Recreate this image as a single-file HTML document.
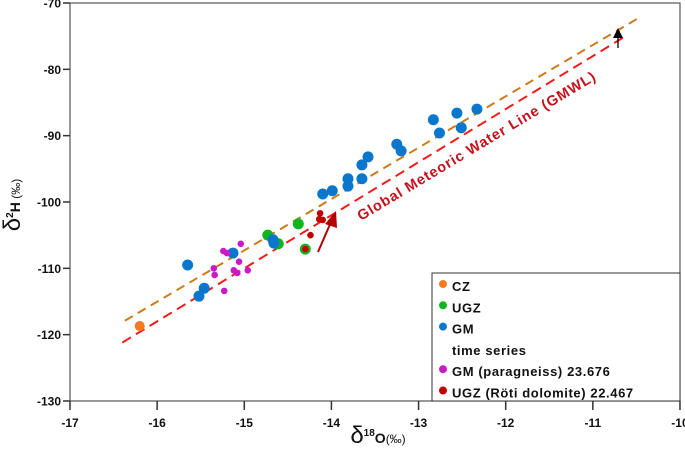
<!DOCTYPE html>
<html><head><meta charset="utf-8"><style>
body{margin:0;background:#fff}
svg{display:block;font-family:"Liberation Sans",Arial,sans-serif}
</style></head><body>
<svg id="chart" width="685" height="457" viewBox="0 0 685 457">
<g id="axes"></g>
<g id="lines"></g>
<g id="points"></g>
<text x="0" y="0" transform="translate(361,221) rotate(-31)" font-size="14.5" font-weight="bold" fill="#c8101a" letter-spacing="0.9">Global Meteoric Water Line (GMWL)</text>
<g transform="translate(20,205) rotate(-90)">
<text text-anchor="middle" font-size="14" font-weight="bold" fill="#111"><tspan font-size="24" font-weight="normal">δ</tspan><tspan dy="-7" font-size="10">2</tspan><tspan dy="7">H</tspan><tspan font-size="12" font-weight="normal"> (‰)</tspan></text></g>
<g>
<text x="378" y="443" text-anchor="middle" font-size="14" font-weight="bold" fill="#111"><tspan font-size="24" font-weight="normal">δ</tspan><tspan dy="-7" font-size="10">18</tspan><tspan dy="7">O</tspan><tspan font-size="12" font-weight="normal">(‰)</tspan></text></g>
<g id="legend"></g>
</svg>
<script>
const xTicks=[-17,-16,-15,-14,-13,-12,-11,-10];
const yTicks=[-70,-80,-90,-100,-110,-120,-130];
const cz_x=[-16.20]; const cz_y=[-118.7];
const ugz_x=[-14.73,-14.61,-14.38,-14.30]; const ugz_y=[-105.0,-106.3,-103.3,-107.1];
const gm_x=[-15.65,-15.46,-15.52,-15.13,-14.67,-14.66,-14.10,-13.99,-13.81,-13.81,-13.65,-13.58,-13.65,-13.25,-13.20,-12.83,-12.76,-12.56,-12.51,-12.33];
const gm_y=[-109.5,-113.0,-114.2,-107.7,-105.7,-106.2,-98.8,-98.3,-96.5,-97.6,-94.4,-93.2,-96.5,-91.3,-92.3,-87.6,-89.6,-86.6,-88.8,-86.0];
const para_x=[-15.04,-15.24,-15.20,-15.35,-15.34,-15.06,-15.12,-15.08,-14.96,-15.23];
const para_y=[-106.3,-107.4,-107.7,-110.0,-111.0,-109.0,-110.3,-110.7,-110.3,-113.4];
const roti_x=[-14.13,-14.14,-14.10,-14.24,-14.30];
const roti_y=[-101.7,-102.6,-102.7,-105.0,-107.1];
const gmwl_x=[-16.4,-10.6]; const gmwl_y=[-121.2,-74.8];
const local_x=[-16.37,-10.48]; const local_y=[-117.9,-72.3];
const legendLabels=["CZ","UGZ","GM","time series","GM (paragneiss) 23.676","UGZ (Röti dolomite) 22.467"];
const legendColors=["#f47a20","#12b51e","#0a77cc",null,"#c81ac8","#c00000"];

const NS="http://www.w3.org/2000/svg";
const X=v=>70+(v+17)*87.14;
const Y=v=>3+(-70-v)*6.633;
function mk(tag,attrs,parent){const e=document.createElementNS(NS,tag);for(const k in attrs)e.setAttribute(k,attrs[k]);parent.appendChild(e);return e;}
const axes=document.getElementById('axes');
let fr=mk('rect',{x:X(-17),y:Y(-70),width:X(-10)-X(-17),height:Y(-130)-Y(-70),fill:'none',stroke:'#555','stroke-width':1.2},axes);


xTicks.forEach(t=>{
 let l=mk('line',{x1:X(t),x2:X(t),y1:Y(-130),y2:Y(-130)+9,stroke:'#333','stroke-width':1.5},axes);
 
 
 let tx=mk('text',{x:X(t),y:Y(-130)+26,'text-anchor':'middle','font-size':12,'font-weight':'bold',fill:'#111'},axes);
 tx.textContent=t;
 
 
});
yTicks.forEach(t=>{
 let l=mk('line',{x1:X(-17)-7,x2:X(-17),y1:Y(t),y2:Y(t),stroke:'#333','stroke-width':1.5},axes);
 
 
 let tx=mk('text',{x:X(-17)-9,y:Y(t)+4.5,'text-anchor':'end','font-size':12,'font-weight':'bold',fill:'#111'},axes);
 tx.textContent=t;
 
 
});
const lines=document.getElementById('lines');
let lo=mk('line',{x1:X(local_x[0]),y1:Y(local_y[0]),x2:X(local_x[1]),y2:Y(local_y[1]),stroke:'#cc7a1a','stroke-width':2,'stroke-dasharray':'9,6'},lines);


let gw=mk('line',{x1:X(gmwl_x[0]),y1:Y(gmwl_y[0]),x2:X(gmwl_x[1]),y2:Y(gmwl_y[1]),stroke:'#f01c1c','stroke-width':2,'stroke-dasharray':'10,6'},lines);


let a1=mk('line',{x1:618,y1:48,x2:618,y2:36,stroke:'#000','stroke-width':1.3},lines);


let a1h=mk('polygon',{points:'613,38 623,38 618,28',fill:'#000'},lines);


let a2=mk('line',{x1:318,y1:252,x2:331,y2:222,stroke:'#b00000','stroke-width':2},lines);


let a2h=mk('polygon',{points:'325,224 337,228 336,211',fill:'#b00000'},lines);



const pts=document.getElementById('points');
function series(xs,ys,color,r,name){xs.forEach((x,i)=>{
 let c=mk('circle',{cx:X(x),cy:Y(ys[i]),r:r,fill:color},pts);
 
 
});}
series(cz_x,cz_y,"#f47a20",5,'cz-point');
series(ugz_x,ugz_y,"#12b51e",5.5,'ugz-point');
series(gm_x,gm_y,"#0a77cc",5.5,'gm-point');
series(para_x,para_y,"#c81ac8",3.3,'paragneiss-point');
series(roti_x,roti_y,"#c00000",3.3,'roti-point');

const lg=document.getElementById('legend');
let box=mk('rect',{x:432,y:273,width:248,height:128,fill:'#fff',stroke:'#333','stroke-width':1},lg);


legendLabels.forEach((lab,i)=>{
 const y=289+i*21.3;
 if(legendColors[i]){let c=mk('circle',{cx:443,cy:y-5,r:4,fill:legendColors[i]},lg);
  
  }
 let t=mk('text',{x:452,y:y+2,'font-size':13,'font-weight':'bold',fill:'#111','letter-spacing':'0.6'},lg);
 t.textContent=lab;
 
 
});
</script>
</body></html>
